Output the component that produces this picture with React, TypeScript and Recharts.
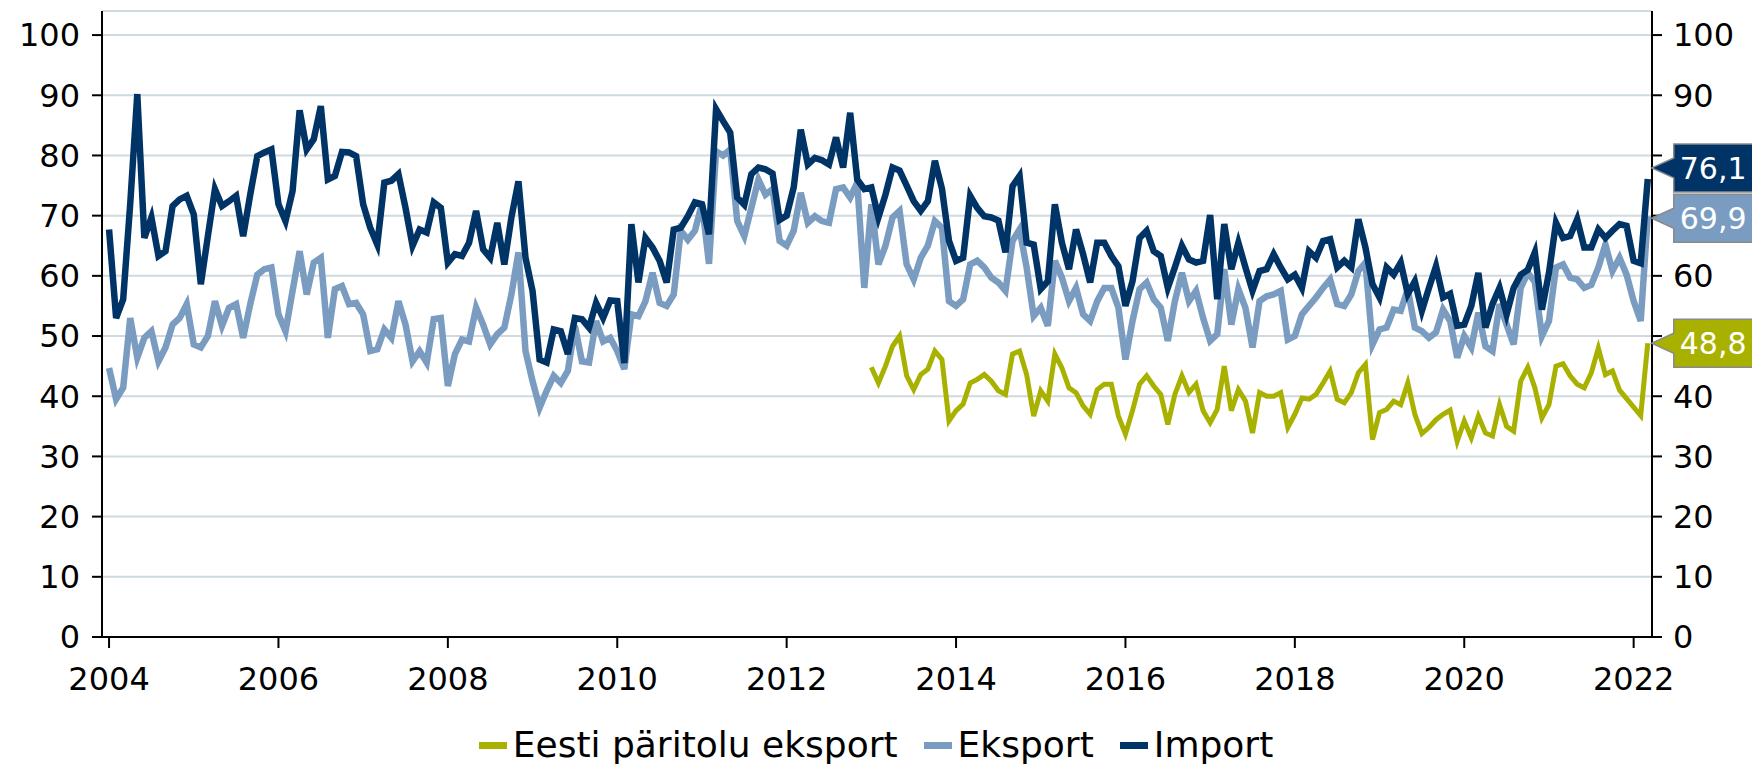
import React from 'react';
import { LineChart, Line, XAxis, YAxis, CartesianGrid, Legend } from 'recharts';

const START_YEAR = 2004;
const EESTI_START_YEAR = 2013;

// Monthly values, Jan 2004 ... Mar 2022
const importValues = [
  67.7, 53.0, 56.1, 72.0, 90.2, 66.3, 69.7, 63.3, 64.1, 71.6, 72.7, 73.3,
  70.2, 58.6, 66.6, 74.4, 71.6, 72.4, 73.3, 66.6, 73.5, 79.9, 80.5, 81.0,
  71.9, 69.1, 74.1, 87.5, 81.0, 82.7, 88.2, 76.0, 76.6, 80.6, 80.5, 79.9,
  71.9, 68.0, 65.2, 75.5, 75.8, 76.9, 71.3, 65.0, 67.7, 67.2, 72.2, 71.3,
  62.2, 63.6, 63.3, 65.5, 70.8, 64.4, 63.0, 68.8, 61.9, 69.7, 75.7, 63.0,
  57.5, 46.1, 45.6, 51.1, 50.8, 47.0, 53.0, 52.8, 51.4, 55.5, 53.0, 55.9,
  55.8, 45.5, 68.6, 58.9, 66.3, 64.7, 62.5, 58.9, 67.7, 68.0, 69.9, 72.2,
  71.9, 66.9, 87.7, 85.7, 83.8, 73.0, 71.8, 76.9, 78.0, 77.7, 77.0, 69.3,
  70.0, 74.7, 84.3, 78.5, 79.6, 79.2, 78.5, 83.0, 78.0, 87.1, 76.0, 74.4,
  74.7, 69.7, 73.5, 78.0, 77.5, 75.0, 72.4, 70.8, 72.4, 79.1, 74.5, 65.8,
  62.5, 63.0, 73.3, 71.3, 69.9, 69.7, 69.2, 63.9, 74.9, 76.6, 65.5, 65.2,
  57.8, 59.1, 71.9, 65.5, 61.1, 67.7, 63.6, 58.9, 65.5, 65.5, 63.3, 61.6,
  55.0, 59.1, 66.3, 67.5, 64.1, 63.3, 58.0, 61.4, 65.0, 62.7, 62.2, 62.5,
  70.1, 56.1, 68.6, 61.1, 65.5, 61.4, 57.5, 60.8, 61.1, 63.6, 61.4, 59.4,
  60.2, 58.0, 64.1, 63.0, 65.8, 66.1, 61.4, 62.5, 61.4, 69.4, 64.7, 58.6,
  56.4, 61.4, 60.2, 62.2, 57.0, 59.1, 54.2, 58.0, 61.6, 56.4, 57.0, 51.7,
  51.9, 55.0, 60.5, 51.4, 55.3, 58.0, 53.6, 58.0, 60.2, 61.0, 63.9, 54.4,
  60.5, 68.8, 66.3, 66.6, 69.4, 64.7, 64.7, 67.7, 66.3, 67.5, 68.6, 68.3,
  62.5, 62.1, 76.1,
];

const eksportValues = [
  44.7, 39.5, 41.4, 53.0, 46.4, 49.7, 50.8, 45.8, 48.1, 51.9, 53.0, 55.3,
  48.6, 48.1, 50.0, 55.8, 51.7, 54.7, 55.3, 49.7, 55.3, 60.2, 61.1, 61.4,
  53.6, 50.8, 57.5, 64.1, 56.9, 62.2, 63.0, 49.7, 57.8, 58.3, 55.3, 55.5,
  53.6, 47.5, 47.8, 51.1, 49.7, 55.8, 51.9, 45.8, 47.5, 45.6, 52.8, 53.0,
  41.7, 47.0, 49.4, 49.1, 54.7, 51.9, 48.6, 50.3, 51.4, 56.9, 63.9, 47.5,
  42.5, 38.1, 40.9, 43.4, 42.2, 44.2, 51.7, 45.8, 45.6, 52.5, 49.1, 49.7,
  47.5, 44.5, 53.6, 53.3, 55.8, 60.5, 55.5, 55.0, 56.9, 67.5, 66.0, 67.5,
  72.0, 62.0, 80.7, 80.0, 81.0, 69.1, 66.6, 71.3, 76.0, 73.5, 74.4, 65.8,
  65.0, 67.5, 73.8, 68.8, 69.9, 69.1, 68.8, 74.4, 74.7, 73.0, 75.5, 58.0,
  71.9, 61.9, 65.0, 69.7, 70.8, 61.9, 59.4, 63.0, 65.0, 69.1, 68.0, 55.8,
  55.0, 56.1, 61.9, 62.5, 61.4, 59.7, 58.9, 57.5, 65.8, 67.7, 61.4, 53.3,
  54.7, 51.7, 62.5, 59.7, 55.8, 58.0, 53.6, 52.5, 55.8, 58.0, 58.0, 54.7,
  46.1, 52.5, 57.8, 58.9, 56.1, 54.7, 49.2, 55.8, 60.5, 55.8, 57.5, 53.0,
  49.2, 50.3, 61.1, 51.9, 57.8, 54.7, 48.1, 55.8, 56.6, 56.9, 57.5, 49.4,
  50.0, 53.6, 55.0, 56.4, 58.0, 59.4, 55.3, 55.0, 56.9, 60.8, 62.2, 48.6,
  51.1, 51.4, 54.4, 54.2, 57.8, 51.4, 50.8, 49.7, 50.6, 54.4, 52.5, 46.4,
  50.0, 48.1, 53.9, 48.3, 47.5, 55.3, 51.9, 48.6, 58.0, 60.5, 59.0, 50.0,
  52.5, 61.4, 61.9, 59.7, 59.4, 58.0, 58.5, 61.4, 65.2, 60.8, 63.0, 60.2,
  55.8, 52.5, 69.9,
];

// Jan 2013 ... Mar 2022
const eestiValues = [
  44.8, 42.2, 45.0, 48.3, 50.0, 43.4, 41.1, 43.6, 44.5, 47.5, 46.1, 35.9,
  37.6, 38.7, 42.2, 42.8, 43.6, 42.5, 40.9, 40.3, 47.0, 47.5, 43.6, 36.7,
  40.9, 39.2, 47.0, 44.7, 41.4, 40.6, 38.4, 37.0, 41.1, 42.0, 42.0, 36.7,
  33.7, 37.6, 42.0, 43.4, 41.7, 40.3, 35.3, 40.3, 43.4, 40.6, 42.0, 37.6,
  35.6, 37.8, 45.0, 37.6, 41.1, 39.2, 33.9, 40.6, 40.0, 40.0, 40.6, 34.8,
  37.0, 39.7, 39.5, 40.3, 42.2, 44.2, 39.5, 38.9, 40.6, 43.9, 45.3, 32.8,
  37.3, 37.8, 39.2, 38.6, 42.2, 37.0, 33.8, 34.8, 36.1, 37.0, 37.7, 32.5,
  35.9, 33.1, 36.7, 33.9, 33.4, 38.6, 35.0, 34.2, 42.5, 44.8, 41.4, 36.4,
  38.6, 45.0, 45.4, 43.4, 42.0, 41.4, 43.9, 48.0, 43.6, 44.2, 41.0, 39.6,
  38.2, 36.8, 48.8,
];

const yearTickLabels = [2004, 2006, 2008, 2010, 2012, 2014, 2016, 2018, 2020, 2022];
const valueTicks = [0, 10, 20, 30, 40, 50, 60, 70, 80, 90, 100];
const seriesNames = { eesti: 'Eesti päritolu eksport', eks: 'Eksport', imp: 'Import' };

const COLORS = { imp: '#003366', eks: '#7a9cc1', eesti: '#a9b100' };
const FONT = '"DejaVu Sans", Verdana, sans-serif';

const eestiOffset = (EESTI_START_YEAR - START_YEAR) * 12;
const data = importValues.map((v, i) => ({
  m: i,
  imp: v,
  eks: eksportValues[i],
  eesti: i >= eestiOffset ? eestiValues[i - eestiOffset] : null,
}));
const lastIndex = importValues.length - 1;
const monthTicks = yearTickLabels.map((y) => (y - START_YEAR) * 12);

function makeEndLabel(fill: string, shiftY: number) {
  return (props: any) => {
    const { x, y, index, value } = props;
    if (index !== lastIndex || value == null) return null;
    const tipX = x + 4;
    const cy = y + shiftY;
    const left = tipX + 22;
    const h = 48;
    const top = cy - h / 2;
    const w = 140;
    const d = `M${tipX},${cy} L${left},${cy - 10} L${left},${top} L${left + w},${top} L${left + w},${top + h} L${left},${top + h} L${left},${cy + 10} Z`;
    return (
      <g>
        <path d={d} fill={fill} stroke="#8a8a8a" strokeWidth={1.5} />
        <text x={left + 6} y={cy + 11} fill="#ffffff" fontSize={30} fontFamily={FONT}>
          {Number(value).toFixed(1).replace('.', ',')}
        </text>
      </g>
    );
  };
}

const legendItems = [
  { key: 'eesti', name: seriesNames.eesti, color: COLORS.eesti },
  { key: 'eks', name: seriesNames.eks, color: COLORS.eks },
  { key: 'imp', name: seriesNames.imp, color: COLORS.imp },
];

function LegendContent() {
  return (
    <div style={{ display: 'flex', justifyContent: 'center', alignItems: 'center', width: '100%' }}>
      {legendItems.map((it, i) => (
        <div key={it.key} style={{ display: 'flex', alignItems: 'center', marginLeft: i === 0 ? 0 : 26 }}>
          <div style={{ width: 28, height: 7, background: it.color, marginRight: 6 }} />
          <span style={{ fontFamily: FONT, fontSize: 36, color: '#000', lineHeight: '44px' }}>{it.name}</span>
        </div>
      ))}
    </div>
  );
}

export default function App() {
  const tick = { fontSize: 32, fill: '#000', fontFamily: FONT };
  return (
    <div style={{ position: 'absolute', left: 0, top: 0, width: 1752, height: 766, background: '#fff' }}>
      <LineChart width={1752} height={766} data={data} margin={{ top: 11, right: 10, left: 12, bottom: 69 }}>
        <CartesianGrid horizontal vertical={false} stroke="#cfd9e0" strokeWidth={2} />
        <XAxis
          dataKey="m"
          type="number"
          domain={[-1, 218.6]}
          ticks={monthTicks}
          tickFormatter={(m: number) => String(START_YEAR + m / 12)}
          height={60}
          tick={tick}
          tickSize={11}
          tickMargin={19}
          stroke="#000"
          strokeWidth={2}
          interval={0}
        />
        <YAxis
          domain={[0, 104]}
          ticks={valueTicks}
          width={90}
          tick={tick}
          tickSize={10}
          tickMargin={12}
          stroke="#000"
          strokeWidth={2}
          interval={0}
        />
        <YAxis
          yAxisId="right"
          orientation="right"
          domain={[0, 104]}
          ticks={valueTicks}
          width={90}
          tick={tick}
          tickSize={10}
          tickMargin={11}
          stroke="#000"
          strokeWidth={2}
          interval={0}
        />
        <Line
          yAxisId="right"
          dataKey="eesti"
          name={seriesNames.eesti}
          stroke={COLORS.eesti}
          strokeWidth={5}
          dot={false}
          activeDot={false}
          isAnimationActive={false}
          label={makeEndLabel(COLORS.eesti, 0)}
        />
        <Line
          dataKey="eks"
          name={seriesNames.eks}
          stroke={COLORS.eks}
          strokeWidth={6.5}
          dot={false}
          activeDot={false}
          isAnimationActive={false}
          label={makeEndLabel(COLORS.eks, 2)}
        />
        <Line
          dataKey="imp"
          name={seriesNames.imp}
          stroke={COLORS.imp}
          strokeWidth={6.5}
          dot={false}
          activeDot={false}
          isAnimationActive={false}
          label={makeEndLabel(COLORS.imp, -11)}
        />
        <Legend
          layout="vertical"
          align="center"
          verticalAlign="middle"
          wrapperStyle={{ left: 0, top: 723, width: 1752 }}
          content={() => <LegendContent />}
        />
      </LineChart>
    </div>
  );
}
